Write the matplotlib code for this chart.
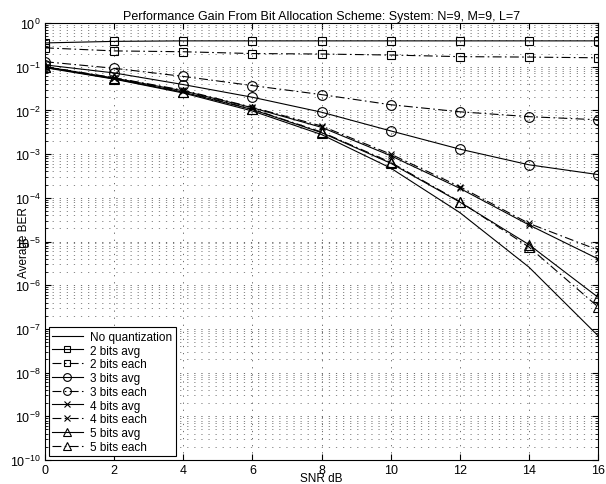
import numpy as np
import matplotlib
matplotlib.use('Agg')
import matplotlib.pyplot as plt
from matplotlib.ticker import LogLocator, NullFormatter, FixedLocator

plt.rcParams['font.family'] = ['Liberation Sans', 'DejaVu Sans']
plt.rcParams['mathtext.fontset'] = 'custom'
plt.rcParams['mathtext.rm'] = 'Liberation Sans'

snr_db = [0, 2, 4, 6, 8, 10, 12, 14, 16]

ber_sem_quant = [0.095, 0.052, 0.025, 0.0097, 0.0028, 4.8e-4, 4.6e-5, 2.6e-6, 7e-8]
ber_2bits_avg = [0.35, 0.38, 0.39, 0.39, 0.39, 0.39, 0.39, 0.39, 0.39]
ber_2bits_each = [0.27, 0.23, 0.22, 0.20, 0.195, 0.185, 0.17, 0.166, 0.16]
ber_3bits_avg = [0.11, 0.072, 0.039, 0.020, 0.0091, 0.0034, 0.0013, 5.7e-4, 3.4e-4]
ber_3bits_each = [0.13, 0.092, 0.060, 0.037, 0.023, 0.0135, 0.0093, 0.0072, 0.0061]
ber_4bits_avg = [0.10, 0.055, 0.028, 0.0115, 0.0041, 9.2e-4, 1.65e-4, 2.4e-5, 4.0e-6]
ber_4bits_each = [0.10, 0.056, 0.029, 0.0118, 0.0044, 1.0e-3, 1.8e-4, 2.6e-5, 6.4e-6]
ber_5bits_avg = [0.098, 0.053, 0.026, 0.0105, 0.0031, 6.2e-4, 8.0e-5, 8.5e-6, 5.3e-7]
ber_5bits_each = [0.099, 0.054, 0.027, 0.0107, 0.0032, 6.5e-4, 8.2e-5, 7.5e-6, 3.2e-7]

series = [
    (ber_sem_quant, '-', None, 'No quantization'),
    (ber_2bits_avg, '-', 's', '2 bits avg'),
    (ber_2bits_each, '-.', 's', '2 bits each'),
    (ber_3bits_avg, '-', 'o', '3 bits avg'),
    (ber_3bits_each, '-.', 'o', '3 bits each'),
    (ber_4bits_avg, '-', 'x', '4 bits avg'),
    (ber_4bits_each, '-.', 'x', '4 bits each'),
    (ber_5bits_avg, '-', '^', '5 bits avg'),
    (ber_5bits_each, '-.', '^', '5 bits each'),
]

fig = plt.figure(figsize=(6.06, 4.85), dpi=100)
ax = fig.add_axes([0.0743, 0.0495, 0.9125, 0.901])

tamanhos = {'s': 6, 'o': 7, 'x': 5, '^': 7}
for valores, estilo, marcador, rotulo in series:
    ms = tamanhos.get(marcador, 0)
    linha, = ax.semilogy(snr_db, valores, linestyle=estilo, marker=marcador,
                         color='black', linewidth=0.8, markersize=ms,
                         markerfacecolor='none', markeredgewidth=0.8,
                         label=rotulo)
    if estilo == '-.':
        linha.set_dashes([8, 3, 1.5, 3])

ax.set_xlim(0, 16)
ax.set_ylim(1e-10, 1)
ax.xaxis.set_major_locator(FixedLocator(snr_db))
ax.yaxis.set_major_locator(LogLocator(base=10, numticks=12))
ax.yaxis.set_minor_locator(LogLocator(base=10, subs=np.arange(2, 10), numticks=12))
ax.yaxis.set_minor_formatter(NullFormatter())

# grade pontilhada cinza, pontos espaçados
ax.grid(True, which='major', linestyle=(0, (1.5, 7)), color='#555555', linewidth=0.6)
ax.grid(True, which='minor', axis='y', linestyle=(0, (1.5, 7)), color='#777777', linewidth=0.6)
ax.set_axisbelow(True)

ax.tick_params(axis='both', which='both', direction='in', top=True, right=True,
               labelsize=9, pad=3)
ax.tick_params(which='major', length=4)
ax.tick_params(which='minor', length=2)
for lado in ax.spines.values():
    lado.set_linewidth(0.8)

ax.set_title('Performance Gain From Bit Allocation Scheme: System: N=9, M=9, L=7',
             fontsize=9, pad=3)
ax.set_xlabel('SNR dB', fontsize=8.5, labelpad=-3)
ax.set_ylabel('Average BER', fontsize=8.5, labelpad=-14)

leg = ax.legend(loc='lower left', fontsize=8.5, fancybox=False, framealpha=1,
                edgecolor='black', borderpad=0.3, labelspacing=0.15,
                handlelength=2.6, handletextpad=0.6, borderaxespad=0.3,
                markerscale=0.8)
leg.get_frame().set_linewidth(0.8)

fig.savefig('out.png', dpi=100)
